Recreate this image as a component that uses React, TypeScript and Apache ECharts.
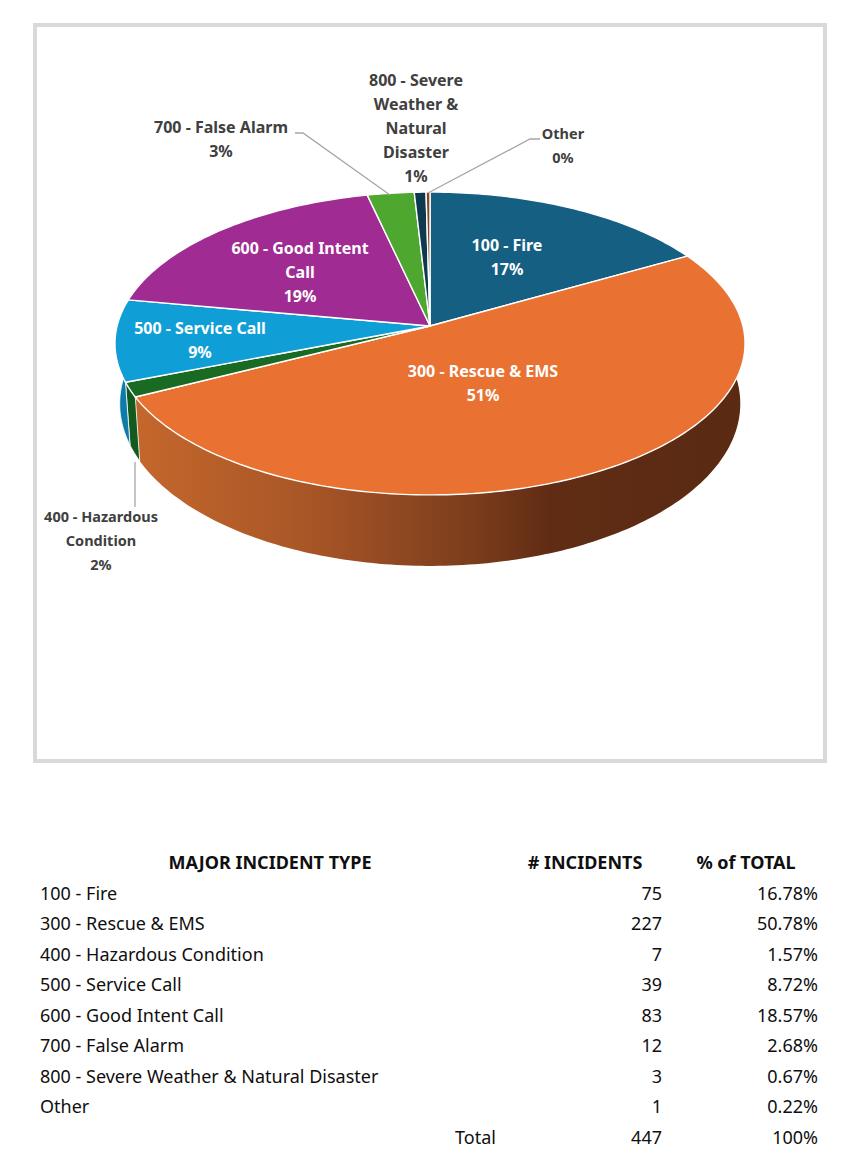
import React, { useEffect, useRef } from "react";
import * as echarts from "echarts";

// ---- data ----
const categories = [
  "100 - Fire",
  "300 - Rescue & EMS",
  "400 - Hazardous Condition",
  "500 - Service Call",
  "600 - Good Intent Call",
  "700 - False Alarm",
  "800 - Severe Weather & Natural Disaster",
  "Other",
];
const incidents = [75, 227, 7, 39, 83, 12, 3, 1];
const shares = ["16.78%", "50.78%", "1.57%", "8.72%", "18.57%", "2.68%", "0.67%", "0.22%"];
const totalCount = "447";
const totalShare = "100%";
const wrappedLabels = [
  "100 - Fire",
  "300 - Rescue & EMS",
  "400 - Hazardous\nCondition",
  "500 - Service Call",
  "600 - Good Intent\nCall",
  "700 - False Alarm",
  "800 - Severe\nWeather &\nNatural\nDisaster",
  "Other",
];

// ---- styles & layout ----
const W = 859;
const H = 1175;
const topColors = ["#156082", "#E97132", "#196B24", "#0F9ED5", "#A02B93", "#4EA72E", "#0D3A4E", "#8B441E"];
const sideColors = ["#0f465f", "", "#135a1e", "#0e7ba8", "#7a206f", "#3a7f22", "#0a2c3b", "#6a3316"];
const rescueSideStops = [
  { offset: 0, color: "#c4672c" },
  { offset: 0.28, color: "#a95627" },
  { offset: 0.55, color: "#7c3d1c" },
  { offset: 0.68, color: "#602c14" },
  { offset: 1, color: "#5a2a13" },
];
const labelLayout = [
  { x: 507, y: 257, size: 16, color: "#ffffff" },
  { x: 483, y: 383, size: 16, color: "#ffffff" },
  { x: 101, y: 540, size: 14.5, color: "#404040" },
  { x: 200, y: 340, size: 16, color: "#ffffff" },
  { x: 300, y: 271.5, size: 16, color: "#ffffff" },
  { x: 221, y: 139, size: 16, color: "#404040" },
  { x: 416, y: 128, size: 16, color: "#404040" },
  { x: 563, y: 145, size: 14.5, color: "#404040" },
];
const leaderLines = [
  [[135, 462], [135, 507]],
  [[295, 133], [303, 133], [390, 195]],
  [[540, 139], [530, 139], [428, 193]],
];
const tableRowY = [893, 923, 954, 984, 1015, 1045, 1076, 1106];
const totalRowY = 1137;
const FONT = "'Noto Sans', 'Open Sans', sans-serif";

// Projection of the pie's disc: centre apex at (CX, CY), perspective k.
const CX = 430;
const CY = 326;
const K = -0.1155;
const RX = 312.9;
const RY = 149.4;
const BASE_Y = 385;
const BASE_RY = 160;
const BASE_RX = RX * 0.985;

const total = incidents.reduce((a, b) => a + b, 0);
const cumulative = incidents.reduce<number[]>((acc, v) => [...acc, acc[acc.length - 1] + v], [0]);
const toAngle = (v: number) => (v / total) * 2 * Math.PI;

const project = (t: number, base: boolean): number[] => {
  const u = Math.sin(t);
  const v = -Math.cos(t);
  const w = 1 + K * v;
  return base
    ? [CX + (BASE_RX * u) / w, BASE_Y + (BASE_RY * v) / w]
    : [CX + (RX * u) / w, CY + (RY * v) / w];
};

const arcPoints = (a: number, b: number, base: boolean) => {
  const n = Math.max(2, Math.ceil(((b - a) * 180) / Math.PI));
  const out: number[][] = [];
  for (let i = 0; i <= n; i++) out.push(project(a + ((b - a) * i) / n, base));
  return out;
};

const VISIBLE_FROM = (75 * Math.PI) / 180;
const VISIBLE_TO = (285 * Math.PI) / 180;

const renderSide = (params: any) => {
  const i = params.dataIndex;
  const a = Math.max(toAngle(cumulative[i]), VISIBLE_FROM);
  const b = Math.min(toAngle(cumulative[i + 1]), VISIBLE_TO);
  if (b <= a) return { type: "group", children: [] };
  const fill =
    i === 1
      ? new echarts.graphic.LinearGradient(0, 0, 1, 0, rescueSideStops)
      : sideColors[i];
  return {
    type: "polygon",
    shape: { points: [...arcPoints(a, b, false), ...arcPoints(a, b, true).reverse()] },
    style: { fill, stroke: i === 1 ? "none" : "#ffffff", lineWidth: i === 1 ? 0 : 0.8 },
  };
};

const renderTop = (params: any) => {
  const i = params.dataIndex;
  const a = toAngle(cumulative[i]);
  const b = toAngle(cumulative[i + 1]);
  return {
    type: "polygon",
    shape: { points: [[CX, CY], ...arcPoints(a, b, false)] },
    style: { fill: topColors[i], stroke: "#ffffff", lineWidth: 1.4, lineJoin: "round" },
  };
};

const tableText = (text: string, x: number, y: number, align: string, bold = false) => ({
  type: "text",
  x,
  y,
  style: {
    text,
    x: 0,
    y: 0,
    align,
    verticalAlign: "middle",
    fill: "#0f0f0f",
    font: `${bold ? "bold " : ""}18px ${FONT}`,
  },
});

const buildGraphics = () => {
  const out: any[] = [
    {
      type: "rect",
      shape: { x: 35, y: 25, width: 790, height: 736 },
      style: { fill: "#ffffff", stroke: "#d9d9d9", lineWidth: 4 },
      z: 0,
    },
  ];
  leaderLines.forEach((pts) => {
    out.push({
      type: "polyline",
      shape: { points: pts },
      style: { stroke: "#a6a6a6", lineWidth: 1.3, fill: "none" },
      z: 20,
    });
  });
  wrappedLabels.forEach((lbl, i) => {
    const l = labelLayout[i];
    const pct = `${Math.round((incidents[i] / total) * 100)}%`;
    out.push({
      type: "text",
      x: l.x,
      y: l.y,
      z: 30,
      style: {
        text: `${lbl}\n${pct}`,
        align: "center",
        verticalAlign: "middle",
        fill: l.color,
        lineHeight: 24,
        font: `bold ${l.size}px ${FONT}`,
      },
    });
  });
  out.push(tableText("MAJOR INCIDENT TYPE", 270, 862, "center", true));
  out.push(tableText("# INCIDENTS", 585, 862, "center", true));
  out.push(tableText("% of TOTAL", 746, 862, "center", true));
  categories.forEach((c, i) => {
    out.push(tableText(c, 40, tableRowY[i], "left"));
    out.push(tableText(String(incidents[i]), 662, tableRowY[i], "right"));
    out.push(tableText(shares[i], 818, tableRowY[i], "right"));
  });
  out.push(tableText("Total", 455, totalRowY, "left"));
  out.push(tableText(totalCount, 662, totalRowY, "right"));
  out.push(tableText(totalShare, 818, totalRowY, "right"));
  return out;
};

export default function App() {
  const ref = useRef<HTMLDivElement>(null);
  useEffect(() => {
    if (!ref.current) return;
    const chart = echarts.init(ref.current, undefined, { renderer: "svg", width: W, height: H });
    chart.setOption({
      animation: false,
      backgroundColor: "#ffffff",
      graphic: { elements: buildGraphics() },
      series: [
        {
          type: "custom",
          name: "side",
          coordinateSystem: "none",
          silent: true,
          z: 5,
          data: incidents,
          renderItem: renderSide,
        },
        {
          type: "custom",
          name: "top",
          coordinateSystem: "none",
          silent: true,
          z: 6,
          data: incidents,
          renderItem: renderTop,
        },
      ],
    });
    return () => chart.dispose();
  }, []);
  return <div ref={ref} style={{ position: "absolute", left: 0, top: 0, width: W, height: H }} />;
}
